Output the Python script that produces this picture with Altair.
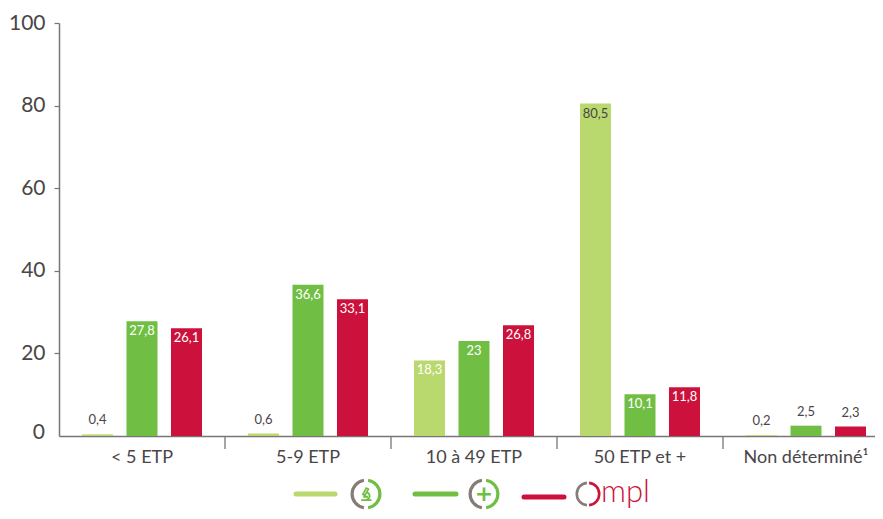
import altair as alt
import pandas as pd

FONT = "Lato"
categories = ["< 5 ETP", "5-9 ETP", "10 à 49 ETP", "50 ETP et +", "Non déterminé¹"]
series = ["a", "b", "c"]
values_a = [0.4, 0.6, 18.3, 80.5, 0.2]
values_b = [27.8, 36.6, 23, 10.1, 2.5]
values_c = [26.1, 33.1, 26.8, 11.8, 2.3]
labels_a = ["0,4", "0,6", "18,3", "80,5", "0,2"]
labels_b = ["27,8", "36,6", "23", "10,1", "2,5"]
labels_c = ["26,1", "33,1", "26,8", "11,8", "2,3"]
colors = ["#b9d96e", "#70bf44", "#cc123c"]
GRAY = "#857b78"
AXIS = "#7a7476"
DARK = "#4a4547"

rows = []
for s, vals, labs in zip(series, [values_a, values_b, values_c], [labels_a, labels_b, labels_c]):
    for cat, v, l in zip(categories, vals, labs):
        inside = v > 5
        dark = s == "a" and v > 50
        rows.append(dict(cat=cat, s=s, v=v, label=l, inside=inside,
                         tcol=(DARK if (dark or not inside) else "white")))
df = pd.DataFrame(rows)

W, H = 830, 413
xscale = alt.Scale(domain=categories, paddingInner=0, paddingOuter=0)
offs = alt.Scale(domain=series, paddingInner=0.303, paddingOuter=0.517)
xaxis = alt.Axis(labelAngle=0, ticks=False, domainColor=AXIS, domainWidth=1.5,
                 labelFont=FONT, labelFontSize=18, labelFontWeight=400, labelColor=DARK,
                 labelPadding=21, labelBaseline="middle", grid=False)
x = alt.X("cat:N", scale=xscale, sort=categories, title=None, axis=xaxis)
yscale = alt.Scale(domain=[0, 100], nice=False)
y = alt.Y("v:Q", scale=yscale, title=None,
          axis=alt.Axis(values=[0, 20, 40, 60, 80, 100], grid=False, domainColor=AXIS, domainWidth=1.5,
                        tickColor={"condition": {"test": "datum.value == 0", "value": "transparent"}, "value": AXIS},
                        tickSize=5, tickWidth=1.2,
                        labelFont=FONT, labelFontSize=21, labelFontWeight=400, labelColor=DARK, labelPadding=9,
                        labelExpr="datum.value == 0 ? '' : datum.label"))
xo = alt.XOffset("s:N", scale=offs, sort=series)

bars = alt.Chart(df).mark_bar(cornerRadius=0).encode(
    x=x, xOffset=xo, y=y,
    color=alt.Color("s:N", scale=alt.Scale(domain=series, range=colors), legend=None))

def texts(flag, dy):
    return alt.Chart(df).transform_filter(f"datum.inside == {flag}").mark_text(
        font=FONT, fontSize=13, fontWeight=400, dy=dy, baseline="middle", align="center").encode(
        x=x, xOffset=xo, y=y, text="label:N", color=alt.Color("tcol:N", scale=None))

zero_label = alt.Chart(pd.DataFrame({"v": [0], "t": ["0"]})).mark_text(
    font=FONT, fontSize=21, fontWeight=400, color=DARK, align="right", baseline="alphabetic", dy=3
).encode(y=y, x=alt.value(-14), text="t:N")

ticks = alt.Chart(pd.DataFrame({"cat": categories[1:]})).mark_rule(color=AXIS, strokeWidth=1.3).encode(
    x=alt.X("cat:N", bandPosition=0, scale=xscale, sort=categories, title=None, axis=xaxis),
    y=alt.value(H), y2=alt.value(H + 13))

# hand-built key below the plot
KY = 494
def sw(x0, x1, yy, col):
    return alt.Chart(pd.DataFrame({"k": [0]})).mark_rule(color=col, strokeWidth=5, strokeCap="round").encode(
        x=alt.value(x0 - 59), x2=alt.value(x1 - 59), y=alt.value(yy - 23))

def arc(cx, cy, col, t0, t1, r=15.5, w=3.2):
    return alt.Chart(pd.DataFrame({"k": [0]})).mark_arc(
        color=col, radius=r, radius2=r - w, theta=t0, theta2=t1).encode(
        x=alt.value(cx - 59), y=alt.value(cy - 23))

PI = 3.14159
key = [
    sw(296, 335, KY, colors[0]), sw(415, 456, KY, colors[1]), sw(524, 564, KY + 3, colors[2]),
    arc(366, KY, GRAY, PI + 0.15, 2 * PI - 0.15), arc(366, KY, colors[1], 0.15, PI - 0.15),
    arc(484, KY, GRAY, PI + 0.15, 2 * PI - 0.15), arc(484, KY, colors[1], 0.15, PI - 0.15),
    arc(588, KY, GRAY, PI + 0.1, 2 * PI - 0.1, r=12.5, w=2.6), arc(588, KY, colors[2], 0.1, PI - 0.1, r=12.5, w=2.6),
]
plus = alt.Chart(pd.DataFrame({"t": ["+"]})).mark_text(
    font="DejaVu Sans", fontSize=22, fontWeight="bold", color=colors[1], baseline="middle", align="center"
).encode(x=alt.value(484 - 59), y=alt.value(KY - 23), text="t:N")
micro = alt.Chart(pd.DataFrame({"k": [0]})).mark_point(
    shape="M-0.7,0.9 L0.8,0.9 M-0.1,0.9 C0.7,0.7 0.7,0 0.1,-0.3 M-0.4,0.4 L0.3,0.4 M-0.45,0.05 L0.05,-0.85 L0.35,-0.7 L-0.15,0.2 Z",
    filled=False, color=colors[1], size=190, strokeWidth=1.8, opacity=1
).encode(x=alt.value(366 - 59), y=alt.value(KY - 23))
ompl = alt.Chart(pd.DataFrame({"t": ["mpl"]})).mark_text(
    font="Lato", fontSize=31, fontWeight=300, color=colors[2], align="left", baseline="alphabetic"
).encode(x=alt.value(601 - 59), y=alt.value(KY + 8 - 23), text="t:N")

chart = alt.layer(bars, texts("true", 10), texts("false", -14), zero_label, ticks, *key, plus, micro, ompl).properties(
    width=W, height=H, background="white",
    padding={"left": 51, "top": 15, "right": -14, "bottom": 75},
    autosize=alt.AutoSizeParams(type="none"),
).configure_view(stroke="transparent")

chart.save("out.html", embed_options={"renderer": "svg", "actions": False})
